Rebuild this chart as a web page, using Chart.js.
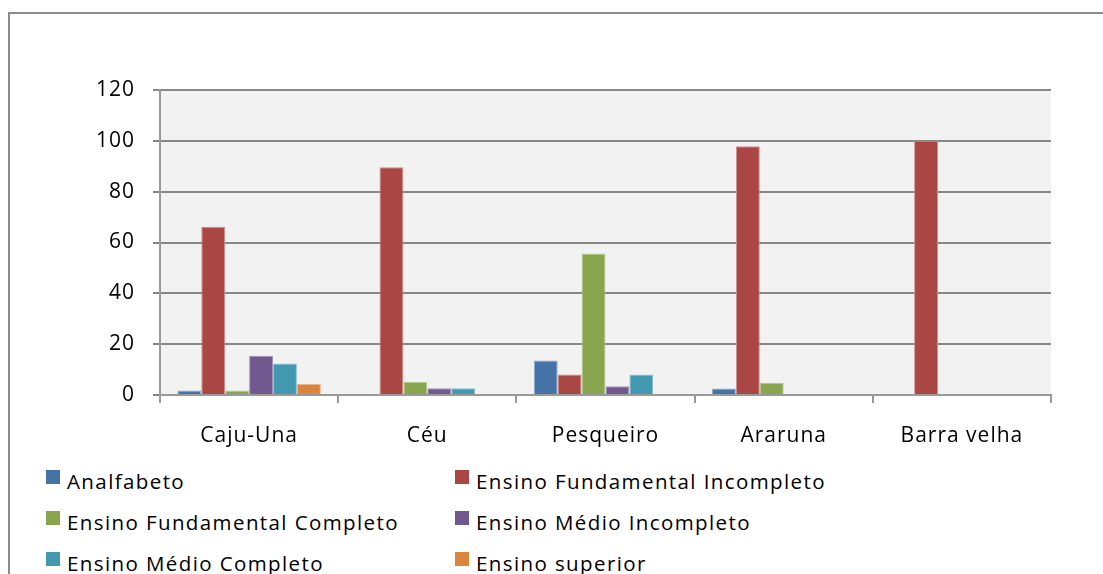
<!DOCTYPE html>
<html>
<head>
<meta charset="utf-8">
<script src="https://cdn.jsdelivr.net/npm/chart.js@4/dist/chart.umd.min.js"></script>
<style>
  html, body { margin: 0; padding: 0; background: #fff; }
  body { width: 1103px; height: 574px; position: relative; overflow: hidden; font-family: "Open Sans", sans-serif; }
  #frame { position: absolute; left: 8px; top: 12px; width: 1120px; height: 620px; border: 2px solid #8c8c8c; box-sizing: border-box; }
  #wrap { position: absolute; left: 0; top: 0; width: 1103px; height: 460px; }
  #legend { position: absolute; left: 0; top: 0; }
  .item { position: absolute; font-size: 20.5px; letter-spacing: 1.4px; color: #000; white-space: nowrap; line-height: 24px; }
  .box { position: absolute; width: 14px; height: 14px; }
</style>
</head>
<body>
<div id="frame"></div>
<div id="wrap"><canvas id="chart"></canvas></div>
<div id="legend"></div>
<script>
/* ---------- DATA ---------- */
const categories = ['Caju-Una', 'Céu', 'Pesqueiro', 'Araruna', 'Barra velha'];
const analfabeto = [1.8, 0, 13.6, 2.6, 0];
const fundIncompleto = [66.2, 89.6, 8.1, 97.9, 100];
const fundCompleto = [1.8, 5.1, 55.7, 4.8, 0];
const medioIncompleto = [15.4, 2.7, 3.4, 0, 0];
const medioCompleto = [12.4, 2.7, 8.1, 0, 0];
const superior = [4.3, 0, 0, 0, 0];
const yTicks = [0, 20, 40, 60, 80, 100, 120];

const seriesNames = [
  'Analfabeto',
  'Ensino Fundamental Incompleto',
  'Ensino Fundamental Completo',
  'Ensino Médio Incompleto',
  'Ensino Médio Completo',
  'Ensino superior'
];
const seriesData = [analfabeto, fundIncompleto, fundCompleto, medioIncompleto, medioCompleto, superior];
const colors = ['#4572A7', '#AA4643', '#89A54E', '#71588F', '#4198AF', '#DB843D'];
const edges = ['#8fa9cc', '#cc8f8d', '#b5c98f', '#a394b8', '#8cc3d2', '#ebb48a'];

/* ---------- PLUGINS ---------- */
const plotBg = {
  id: 'plotBg',
  beforeDraw(chart) {
    const { ctx, chartArea: a } = chart;
    ctx.save();
    ctx.fillStyle = '#F2F2F2';
    ctx.fillRect(a.left, a.top, a.right - a.left, a.bottom - a.top);
    ctx.restore();
  }
};
const spacing = {
  id: 'spacing',
  beforeLayout(chart) { chart.ctx.letterSpacing = '1px'; },
  beforeDraw(chart) { chart.ctx.letterSpacing = '1px'; }
};

/* ---------- CHART ---------- */
const font = { family: '"Open Sans", sans-serif', size: 21 };

new Chart(document.getElementById('chart'), {
  type: 'bar',
  data: {
    labels: categories,
    datasets: seriesNames.map((name, i) => ({
      label: name,
      data: seriesData[i],
      backgroundColor: colors[i],
      borderColor: edges[i],
      borderWidth: 1,
      borderSkipped: 'start',
      categoryPercentage: 0.805,
      barPercentage: 1
    }))
  },
  options: {
    responsive: true,
    maintainAspectRatio: false,
    animation: false,
    layout: { padding: { top: 90, right: 52, left: 0, bottom: 0 } },
    plugins: { legend: { display: false }, tooltip: { enabled: false } },
    scales: {
      x: {
        afterFit(s) { s.height = 65; },
        grid: { drawOnChartArea: false, drawTicks: true, tickLength: 8, color: '#9a9a9a', lineWidth: 2, offset: true },
        border: { color: '#9a9a9a', width: 2 },
        ticks: { color: '#000', font, padding: 20 }
      },
      y: {
        min: 0,
        max: 120,
        afterFit(s) { s.width = 160; },
        afterBuildTicks(s) { s.ticks = yTicks.map(v => ({ value: v })); },
        grid: { color: '#878787', lineWidth: 2, tickLength: 7, drawTicks: true },
        border: { color: '#9a9a9a', width: 2 },
        ticks: { color: '#000', font, padding: 18 }
      }
    }
  },
  plugins: [plotBg, spacing]
});

/* ---------- LEGEND (two columns, like the original) ---------- */
const legendEl = document.getElementById('legend');
seriesNames.forEach((name, i) => {
  const col = i % 2, row = Math.floor(i / 2);
  const x = col ? 455 : 46;
  const y = 470 + row * 41;
  legendEl.insertAdjacentHTML('beforeend',
    `<div class="box" style="left:${x}px;top:${y}px;background:${colors[i]}"></div>` +
    `<div class="item" style="left:${x + 21}px;top:${y - 1}px">${name}</div>`);
});
</script>
</body>
</html>
